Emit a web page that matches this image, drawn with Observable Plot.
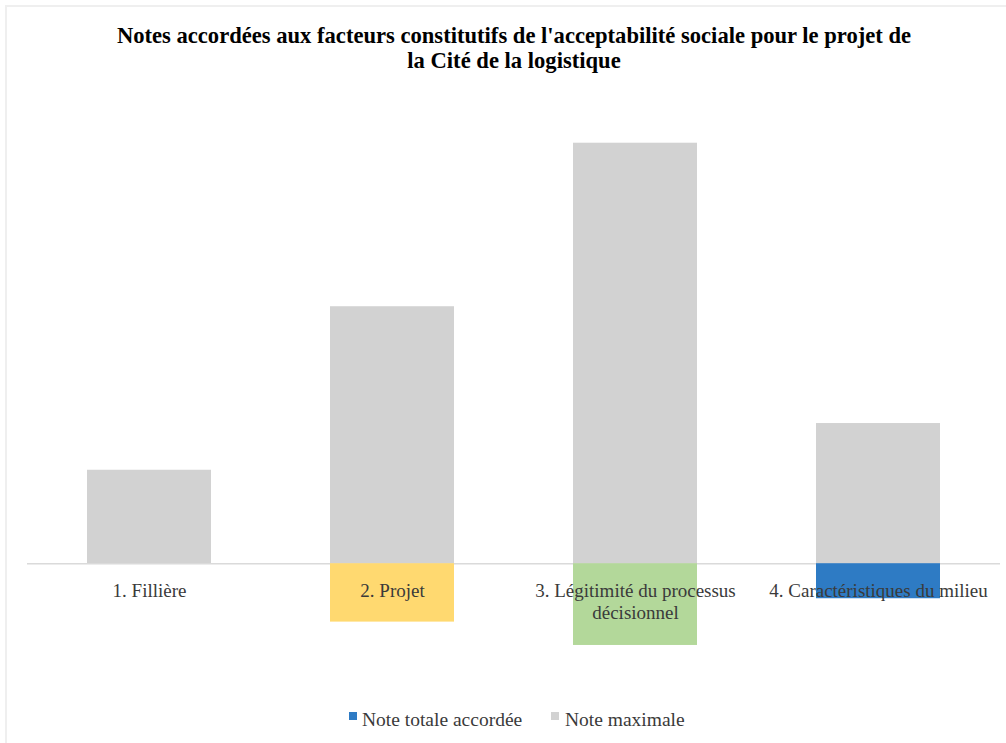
<!DOCTYPE html>
<html>
<head>
<meta charset="utf-8">
<script src="https://cdn.jsdelivr.net/npm/d3@7"></script>
<script src="https://cdn.jsdelivr.net/npm/@observablehq/plot@0.6"></script>
<style>
  html, body { margin: 0; padding: 0; background: #fff; }
  body { width: 1006px; height: 743px; position: relative; overflow: hidden; font-family: "Liberation Serif", "Times New Roman", serif; }
  #frame { position: absolute; left: 5px; top: 5px; width: 1010px; height: 750px; border-top: 2px solid #efefef; border-left: 2px solid #efefef; box-sizing: border-box; }
  #title { position: absolute; left: 0; width: 1028px; top: 23px; text-align: center; font-weight: bold; font-size: 22.6px; line-height: 25px; color: #000; }
  #chart { position: absolute; left: 0; top: 90px; }
  .lg-sw { position: absolute; width: 8px; height: 8px; top: 712px; }
  .lg-tx { position: absolute; top: 709px; font-size: 19.5px; line-height: 21px; color: #3a3a3a; white-space: nowrap; }
</style>
</head>
<body>
<div id="frame"></div>
<div id="title">Notes accordées aux facteurs constitutifs de l'acceptabilité sociale pour le projet de<br>la Cité de la logistique</div>
<div id="chart"></div>
<div id="legend"></div>
<script>
// ---- data ----
const categories = ["1. Fillière", "2. Projet", "3. Légitimité du processus\ndécisionnel", "4. Caractéristiques du milieu"];
const noteMaximale = [4, 11, 18, 6];
const noteTotaleAccordee = [0, -2.5, -3.5, -1.5];
const accordeeColors = ["#2E7BC4", "#FFD970", "#B3D89A", "#2E7BC4"];
const seriesNames = ["Note totale accordée", "Note maximale"];
const seriesColors = ["#2E7BC4", "#D2D2D2"];

const table = categories.map((c, i) => ({
  cat: c,
  max: noteMaximale[i],
  acc: noteTotaleAccordee[i],
  color: accordeeColors[i]
}));

const chart = Plot.plot({
  width: 1006,
  height: 614,
  marginLeft: 27,
  marginRight: 6,
  marginTop: 6,
  marginBottom: 24,
  style: { fontFamily: "Liberation Serif, serif", background: "transparent" },
  x: { domain: categories, paddingInner: 0.49, paddingOuter: 0.245, axis: null },
  y: { domain: [-5, 20], axis: null },
  color: { type: "identity" },
  marks: [
    Plot.barY(table, { x: "cat", y: "max", fill: seriesColors[1] }),
    Plot.ruleY([0], { stroke: "#dadada", strokeWidth: 1.5 }),
    Plot.barY(table, { x: "cat", y: "acc", fill: "color" }),
    Plot.text(table, {
      x: "cat", y: () => 0, text: "cat",
      dy: 18, lineAnchor: "top", lineHeight: 1.16,
      fontSize: 19, fill: "#3a3a3a", fontFamily: "Liberation Serif, serif"
    })
  ]
});
document.getElementById("chart").appendChild(chart);

// ---- legend ----
const legend = document.getElementById("legend");
const lgPos = [{ sw: 349, tx: 362 }, { sw: 551, tx: 565 }];
seriesNames.forEach((name, i) => {
  const sw = document.createElement("div");
  sw.className = "lg-sw";
  sw.style.left = lgPos[i].sw + "px";
  sw.style.background = seriesColors[i];
  legend.appendChild(sw);
  const tx = document.createElement("div");
  tx.className = "lg-tx";
  tx.style.left = lgPos[i].tx + "px";
  tx.textContent = name;
  legend.appendChild(tx);
});
</script>
</body>
</html>
